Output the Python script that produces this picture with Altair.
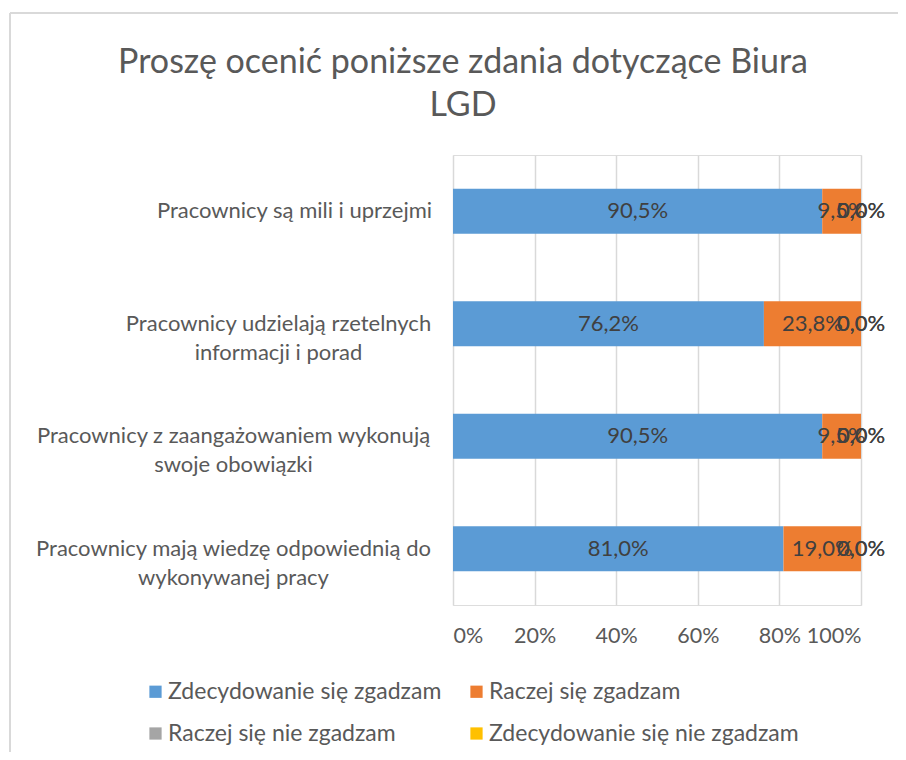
import altair as alt
import pandas as pd

categories = [
    "Pracownicy są mili i uprzejmi",
    "Pracownicy udzielają rzetelnych|informacji i porad",
    "Pracownicy z zaangażowaniem wykonują|swoje obowiązki",
    "Pracownicy mają wiedzę odpowiednią do|wykonywanej pracy",
]
series = [
    "Zdecydowanie się zgadzam",
    "Raczej się zgadzam",
    "Raczej się nie zgadzam",
    "Zdecydowanie się nie zgadzam",
]
colors = ["#5B9BD5", "#ED7D31", "#A5A5A5", "#FFC000"]
vals_s1 = [90.5, 76.2, 90.5, 81.0]
vals_s2 = [9.5, 23.8, 9.5, 19.0]
vals_s3 = [0.0, 0.0, 0.0, 0.0]
vals_s4 = [0.0, 0.0, 0.0, 0.0]
x_ticks = [0, 20, 40, 60, 80, 100]
title_lines = ["Proszę ocenić poniższe zdania dotyczące Biura", "LGD"]

rows = []
for si, (s, vals) in enumerate(zip(series, [vals_s1, vals_s2, vals_s3, vals_s4])):
    for c, v in zip(categories, vals):
        rows.append({"cat": c, "series": s, "sidx": si, "value": v})
df = pd.DataFrame(rows)

FONT = "Lato"
TXT = "#595959"

pad_cond = [
    {"test": "datum.value == '%s'" % categories[0], "value": 159},
    {"test": "datum.value == '%s'" % categories[1], "value": 175},
]

base = alt.Chart(df).transform_stack(
    stack="value", groupby=["cat"], sort=[alt.SortField("sidx")], as_=["v0", "v1"]
).transform_calculate(
    mid="(datum.v0 + datum.v1) / 2",
    lbl="replace(format(datum.value, '.1f'), '.', ',') + '%'",
)

yenc = alt.Y(
    "cat:N",
    sort=categories,
    scale=alt.Scale(paddingInner=0.6, paddingOuter=0.3),
    axis=alt.Axis(
        title=None, domain=False, ticks=False, grid=False,
        labelExpr="split(datum.label, '|')",
        labelAlign="center", labelBaseline="middle",
        labelPadding={"condition": pad_cond, "value": 220},
        labelFont=FONT, labelFontSize=22, labelColor=TXT, labelLineHeight=29,
        labelLimit=600,
    ),
)

bars = base.mark_bar().encode(
    x=alt.X(
        "v0:Q",
        scale=alt.Scale(domain=[0, 100]),
        axis=alt.Axis(
            title=None, values=x_ticks, labelExpr="datum.value + '%'",
            domain=False, ticks=False, grid=True, gridColor="#D9D9D9", gridWidth=1.5,
            labelFont=FONT, labelFontSize=21.5, labelColor=TXT, labelPadding=20,
        ),
    ),
    x2="v1:Q",
    y=yenc,
    color=alt.Color(
        "series:N",
        scale=alt.Scale(domain=series, range=colors),
        legend=alt.Legend(
            title=None, orient="none", legendX=-309, legendY=525, columns=2,
            direction="horizontal",
            symbolType="square", symbolSize=150, symbolStrokeWidth=0,
            labelFont=FONT, labelFontSize=23, labelColor=TXT, labelOffset=1,
            columnPadding=23, rowPadding=18, padding=0, labelLimit=400,
        ),
    ),
    order=alt.Order("sidx:Q"),
)

texts = base.mark_text(font=FONT, fontSize=22, color="#404040", baseline="middle").encode(
    x=alt.X("mid:Q"),
    y=alt.Y("cat:N", sort=categories),
    text="lbl:N",
)

border_left = alt.Chart(df).mark_rule(color="#D9D9D9", strokeWidth=2).encode(
    x=alt.value(-443), y=alt.value(-142), y2=alt.value(605)
)
border_top = alt.Chart(df).mark_rule(color="#D9D9D9", strokeWidth=2).encode(
    x=alt.value(-443), x2=alt.value(453), y=alt.value(-142)
)

chart = alt.layer(border_left, border_top, bars, texts).properties(
    width=408,
    height=450,
    title=alt.TitleParams(
        text=title_lines, font=FONT, fontSize=34, color=TXT, fontWeight="normal",
        anchor="middle", dx=-194, dy=149, offset=38, lineHeight=43,
    ),
    autosize=alt.AutoSizeParams(type="none"),
    padding={"left": 445, "top": 147, "right": 37, "bottom": 147},
).configure_view(stroke=None).configure(background="white")

chart.save("out.html", embed_options={"renderer": "svg", "actions": False})
